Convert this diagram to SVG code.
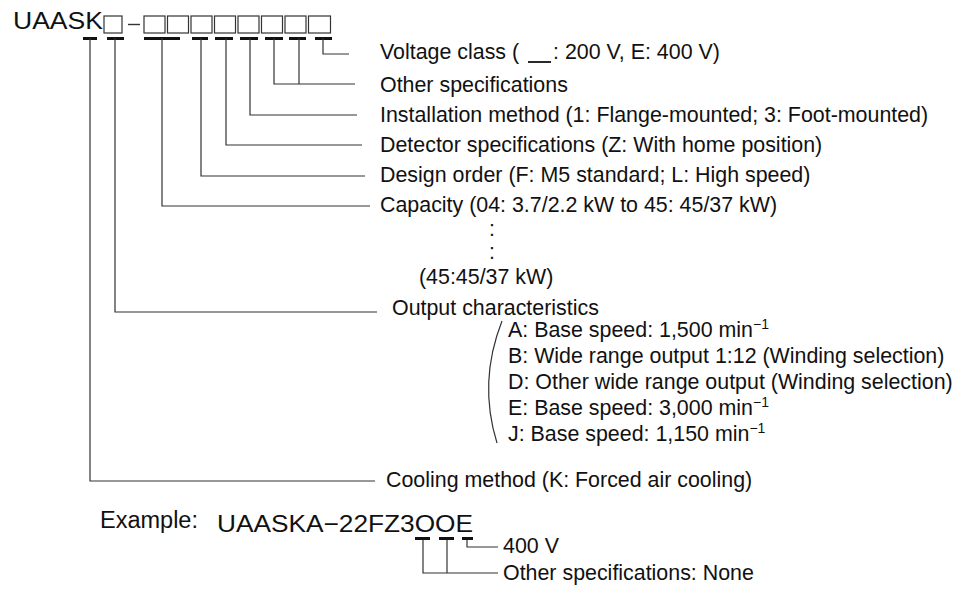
<svg xmlns="http://www.w3.org/2000/svg" width="958" height="598" viewBox="0 0 958 598">
<style>
text{font-family:"Liberation Sans",Arial,sans-serif;fill:#111}
.t{font-size:21.4px}
.big{font-size:24px}
.ln{fill:none;stroke:#333;stroke-width:1.2}
.box{fill:none;stroke:#333;stroke-width:1.2}
.tk{fill:#111}
</style>
<rect width="958" height="598" fill="#fff"/>
<g id="model-code">
<text class="big" x="13" y="29" textLength="90" lengthAdjust="spacingAndGlyphs">UAASK</text>
<rect class="box" x="104" y="16" width="18" height="17"/>
<line x1="128" y1="24.5" x2="140" y2="24.5" stroke="#333" stroke-width="1.4"/>
<rect class="box" x="144" y="16" width="21" height="17"/>
<rect class="box" x="167.5" y="16" width="21" height="17"/>
<rect class="box" x="191" y="16" width="21" height="17"/>
<rect class="box" x="214.5" y="16" width="21" height="17"/>
<rect class="box" x="238" y="16" width="21" height="17"/>
<rect class="box" x="261.5" y="16" width="21" height="17"/>
<rect class="box" x="285" y="16" width="21" height="17"/>
<rect class="box" x="308.5" y="16" width="22" height="17"/>
</g>
<g id="ticks">
<rect class="tk" x="83" y="37" width="14" height="3"/>
<rect class="tk" x="107" y="37" width="17" height="3"/>
<rect class="tk" x="144" y="37" width="36" height="3"/>
<rect class="tk" x="192" y="37" width="16" height="3"/>
<rect class="tk" x="215" y="37" width="18" height="3"/>
<rect class="tk" x="240" y="37" width="18" height="3"/>
<rect class="tk" x="265" y="37" width="18" height="3"/>
<rect class="tk" x="289" y="37" width="17" height="3"/>
<rect class="tk" x="315" y="37" width="17" height="3"/>
</g>
<g id="connectors">
<path class="ln" d="M323 38 V54 H349"/>
<path class="ln" d="M299 38 V84"/>
<path class="ln" d="M274 38 V84 H355"/>
<path class="ln" d="M250 38 V115 H357"/>
<path class="ln" d="M226 38 V145 H362"/>
<path class="ln" d="M201 38 V176 H365"/>
<path class="ln" d="M162 38 V206 H370"/>
<path class="ln" d="M115 38 V312 H377"/>
<path class="ln" d="M90 38 V481 H375"/>
<path class="ln" d="M502 321 Q478 382 497 443"/>
<path class="ln" d="M467 539 V547 H498"/>
<path class="ln" d="M447 539 V573"/>
<path class="ln" d="M423 539 V573 H498"/>
</g>
<g id="voltage">
<text class="t" x="380" y="59">Voltage class (<tspan x="553">: 200 V, E: 400 V)</tspan></text>
<line x1="528" y1="62" x2="551" y2="62" stroke="#111" stroke-width="1.8"/>
</g>
<g id="other"><text class="t" x="380" y="92">Other specifications</text></g>
<g id="installation"><text class="t" x="380" y="122">Installation method (1: Flange-mounted; 3: Foot-mounted)</text></g>
<g id="detector"><text class="t" x="380" y="152">Detector specifications (Z: With home position)</text></g>
<g id="design"><text class="t" x="380" y="182">Design order (F: M5 standard; L: High speed)</text></g>
<g id="capacity">
<text class="t" x="380" y="212">Capacity (04: 3.7/2.2 kW to 45: 45/37 kW)</text>
<text class="t" x="489" y="236">:</text>
<text class="t" x="489" y="259">:</text>
<text class="t" x="419" y="284">(45:45/37 kW)</text>
</g>
<g id="output">
<text class="t" x="392" y="315">Output characteristics</text>
<text class="t" x="508" y="337">A: Base speed: 1,500 min<tspan dy="-8" font-size="14">−1</tspan></text>
<text class="t" x="508" y="363">B: Wide range output 1:12 (Winding selection)</text>
<text class="t" x="508" y="389">D: Other wide range output (Winding selection)</text>
<text class="t" x="508" y="415">E: Base speed: 3,000 min<tspan dy="-8" font-size="14">−1</tspan></text>
<text class="t" x="508" y="441">J: Base speed: 1,150 min<tspan dy="-8" font-size="14">−1</tspan></text>
</g>
<g id="cooling"><text class="t" x="386" y="487">Cooling method (K: Forced air cooling)</text></g>
<g id="example">
<text x="100" y="528" font-size="23.5">Example:</text>
<text class="big" x="217" y="532" textLength="256" lengthAdjust="spacingAndGlyphs">UAASKA−22FZ3OOE</text>
<rect class="tk" x="415" y="537" width="15" height="3"/>
<rect class="tk" x="439" y="537" width="15" height="3"/>
<rect class="tk" x="462" y="537" width="11" height="3"/>
<text class="t" x="503" y="553">400 V</text>
<text class="t" x="503" y="580">Other specifications: None</text>
</g>
</svg>
